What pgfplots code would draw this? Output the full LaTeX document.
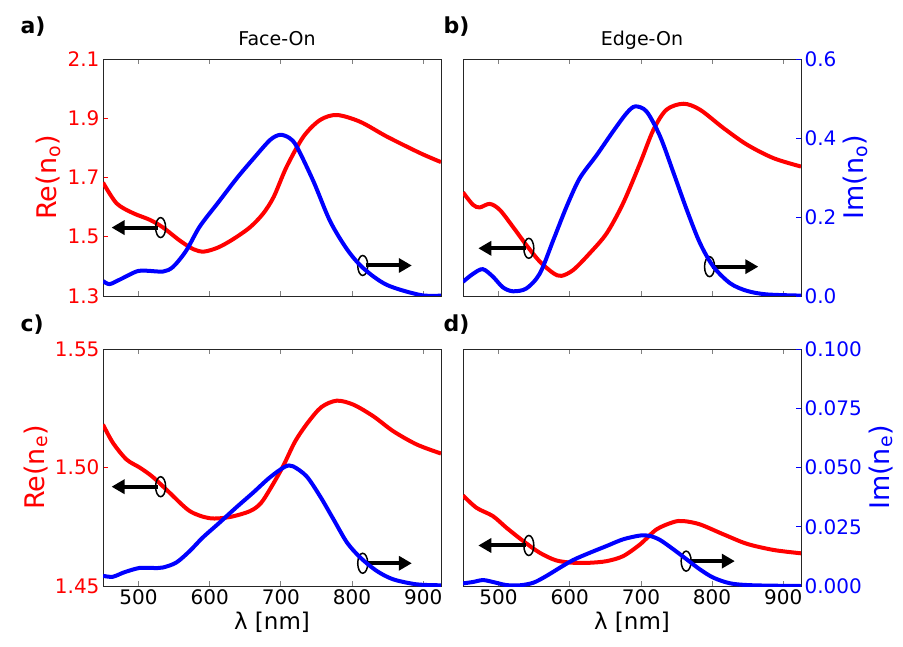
\documentclass[border=0pt]{standalone}
\usepackage{fontspec}
\setmainfont{DejaVu Sans}
\usepackage{pgfplots}
\pgfplotsset{compat=1.18}
\usetikzlibrary{arrows.meta}

\pgfplotsset{
  panel/.style={
    width=338pt, height=237pt, scale only axis, anchor=north west,
    xmin=450, xmax=925, xtick={500,600,700,800,900},
    tick align=inside, major tick length=5pt,
    axis line style={line width=1pt, black!85},
    tick style={line width=0.8pt},
    /pgf/number format/assume math mode=true,
    tick label style={font=\fontsize{20}{24}\selectfont},
    xlabel style={font=\fontsize{23}{26}\selectfont},
  },
  redc/.style={red, line width=4pt, smooth, tension=0.5},
  bluec/.style={blue, line width=4pt, smooth, tension=0.5},
}
\tikzset{
  larr/.style={black, line width=4pt, -{Triangle[length=13pt,width=14pt]}},
  ell/.style={black, line width=1.5pt},
}

\begin{document}
\begin{tikzpicture}
\path[use as bounding box] (0pt,0pt) rectangle (903pt,-646pt);

% ---------- panel a ----------
\begin{axis}[panel, at={(103pt,-59pt)},
  ymin=1.3, ymax=2.1, ytick={1.3,1.5,1.7,1.9,2.1},
  xtick pos=both, ytick pos=left, xticklabels={},
  y tick style={red},
  yticklabel style={red, /pgf/number format/.cd, fixed, fixed zerofill, precision=1},
  ylabel={Re(n\textsubscript{o})}, ylabel style={red, font=\fontsize{27}{30}\selectfont}]
\addplot[redc] coordinates {(450,1.683)(469,1.613)(492,1.580)(516,1.557)(534.5,1.531)(558,1.487)(577,1.458)(592,1.450)(612,1.464)(633,1.492)(656.6,1.532)(675,1.578)(690,1.635)(708,1.736)(731.7,1.838)(755,1.894)(778.7,1.911)(811.5,1.888)(849,1.838)(896,1.782)(925,1.752)};
\draw[ell] (axis cs:531,1.531) ellipse [x radius=5pt, y radius=10pt];
\draw[larr] (axis cs:527,1.531) -- (axis cs:462,1.531);
\draw[ell] (axis cs:815,1.403) ellipse [x radius=5pt, y radius=10pt];
\draw[larr] (axis cs:819,1.403) -- (axis cs:884,1.403);
\end{axis}
\begin{axis}[panel, at={(103pt,-59pt)}, hide axis, ymin=0, ymax=0.6]
\addplot[bluec] coordinates {(450,0.038)(459,0.030)(473,0.041)(497,0.062)(511,0.064)(534.5,0.062)(548.6,0.074)(567,0.115)(586,0.176)(612,0.237)(638,0.298)(661,0.347)(684.8,0.395)(699,0.408)(712,0.400)(722.4,0.378)(745.8,0.290)(769,0.190)(793,0.118)(816,0.070)(849,0.028)(896,0.0025)(925,0.001)};
\end{axis}

% ---------- panel b ----------
\begin{axis}[panel, at={(463pt,-59pt)},
  ymin=1.3, ymax=2.1, ytick=\empty,
  xtick pos=both, xticklabels={}]
\addplot[redc] coordinates {(450,1.650)(464,1.608)(473.5,1.599)(487.6,1.611)(501.6,1.591)(520,1.534)(539,1.472)(558,1.416)(577,1.377)(588.5,1.368)(605,1.388)(628,1.444)(652,1.512)(675,1.613)(699,1.749)(717.6,1.861)(736,1.929)(760,1.949)(783,1.929)(816,1.867)(849,1.811)(886.6,1.765)(925,1.737)};
\draw[ell] (axis cs:542.5,1.461) ellipse [x radius=5pt, y radius=10pt];
\draw[larr] (axis cs:538.5,1.461) -- (axis cs:471.5,1.461);
\draw[ell] (axis cs:796.5,1.399) ellipse [x radius=5pt, y radius=10pt];
\draw[larr] (axis cs:800.5,1.399) -- (axis cs:865,1.399);
\end{axis}
\begin{axis}[panel, at={(463pt,-59pt)}, hide x axis, axis y line*=right,
  ymin=0, ymax=0.6, ytick={0,0.2,0.4,0.6},
  yticklabel pos=right, ylabel near ticks,
  y axis line style={black!85},
  y tick style={blue},
  yticklabel style={blue, /pgf/number format/.cd, fixed, fixed zerofill, precision=1},
  ylabel={Im(n\textsubscript{o})}, ylabel style={blue, font=\fontsize{27}{30}\selectfont}]
\addplot[bluec] coordinates {(450,0.036)(464,0.056)(477.7,0.068)(492,0.049)(506,0.022)(520,0.012)(539,0.019)(558,0.057)(577,0.142)(595.5,0.226)(614,0.298)(638,0.357)(661,0.417)(680,0.463)(692,0.480)(708,0.467)(727,0.404)(746,0.311)(764.5,0.218)(783,0.134)(802,0.074)(825.6,0.032)(849,0.013)(877,0.004)(925,0.001)};
\end{axis}

% ---------- panel c ----------
\begin{axis}[panel, at={(103pt,-349pt)},
  ymin=1.45, ymax=1.55, ytick={1.45,1.50,1.55},
  xtick pos=both, ytick pos=left,
  y tick style={red},
  yticklabel style={red, /pgf/number format/.cd, fixed, fixed zerofill, precision=2},
  ylabel={Re(n\textsubscript{e})}, ylabel style={red, font=\fontsize{27}{30}\selectfont},
  xlabel={λ [nm]}]
\addplot[redc] coordinates {(450,1.5181)(464,1.5104)(483,1.5034)(502,1.4999)(520,1.4960)(543.5,1.4894)(572,1.4816)(600,1.4786)(628,1.4791)(656.6,1.4816)(672,1.4850)(686,1.4915)(703,1.5005)(720,1.5110)(738,1.5190)(757,1.5255)(778.6,1.5282)(802,1.5265)(830,1.5216)(858,1.5153)(891,1.5097)(925,1.5059)};
\draw[ell] (axis cs:531,1.4919) ellipse [x radius=5pt, y radius=10pt];
\draw[larr] (axis cs:527,1.4919) -- (axis cs:462,1.4919);
\draw[ell] (axis cs:815,1.4596) ellipse [x radius=5pt, y radius=10pt];
\draw[larr] (axis cs:819,1.4596) -- (axis cs:884,1.4596);
\end{axis}
\begin{axis}[panel, at={(103pt,-349pt)}, hide axis, ymin=0, ymax=0.1]
\addplot[bluec] coordinates {(450,0.0043)(463.7,0.0039)(480,0.0058)(501,0.0076)(520,0.0076)(534,0.0078)(553,0.0099)(572,0.0148)(590,0.0204)(614,0.0268)(637,0.0331)(661,0.0394)(684,0.0457)(705.5,0.0503)(717,0.0505)(736,0.0463)(755,0.0379)(774,0.0281)(793,0.0183)(812,0.0119)(835,0.0063)(858,0.0028)(891,0.0007)(925,0.0003)};
\end{axis}

% ---------- panel d ----------
\begin{axis}[panel, at={(463pt,-349pt)},
  ymin=1.45, ymax=1.55, ytick=\empty,
  xtick pos=both, xlabel={λ [nm]}]
\addplot[redc] coordinates {(450,1.4882)(469,1.4830)(492,1.4795)(511,1.4746)(534.5,1.4690)(558,1.4640)(581,1.4608)(605,1.4598)(628,1.4598)(652,1.4605)(675,1.4626)(699,1.4676)(722,1.4739)(746,1.4770)(760,1.4774)(783,1.4760)(816,1.4718)(849,1.4678)(886.6,1.4652)(925,1.4638)};
\draw[ell] (axis cs:542.5,1.4671) ellipse [x radius=5pt, y radius=10pt];
\draw[larr] (axis cs:538.5,1.4671) -- (axis cs:471.5,1.4671);
\draw[ell] (axis cs:763.6,1.4605) ellipse [x radius=5pt, y radius=10pt];
\draw[larr] (axis cs:767.6,1.4605) -- (axis cs:832,1.4605);
\end{axis}
\begin{axis}[panel, at={(463pt,-349pt)}, hide x axis, axis y line*=right,
  ymin=0, ymax=0.1, ytick={0,0.025,0.05,0.075,0.1},
  yticklabel pos=right, ylabel near ticks,
  y axis line style={black!85},
  y tick style={blue},
  yticklabel style={blue, /pgf/number format/.cd, fixed, fixed zerofill, precision=3},
  ylabel={Im(n\textsubscript{e})}, ylabel style={blue, font=\fontsize{27}{30}\selectfont}]
\addplot[bluec] coordinates {(450,0.0011)(464,0.0017)(478,0.0025)(492,0.0017)(511,0.0004)(530,0.0003)(549,0.0014)(567,0.0042)(586,0.0077)(605,0.0110)(628,0.0140)(652,0.0169)(675,0.0197)(699,0.0213)(713,0.0211)(727,0.0194)(746,0.0154)(764.5,0.0112)(783,0.0070)(802,0.0035)(826,0.0011)(858,0.0003)(925,0.0)};
\end{axis}

% ---------- panel letters and titles ----------
\node[anchor=base west, font=\bfseries\fontsize{22}{24}\selectfont] at (17pt,-33pt) {a)};
\node[anchor=base west, font=\bfseries\fontsize{22}{24}\selectfont] at (440pt,-33pt) {b)};
\node[anchor=base west, font=\bfseries\fontsize{22}{24}\selectfont] at (17pt,-331pt) {c)};
\node[anchor=base west, font=\bfseries\fontsize{22}{24}\selectfont] at (440pt,-331pt) {d)};
\node[anchor=base, font=\fontsize{19}{22}\selectfont] at (277pt,-45pt) {Face-On};
\node[anchor=base, font=\fontsize{19}{22}\selectfont] at (642pt,-45pt) {Edge-On};
\end{tikzpicture}
\end{document}
